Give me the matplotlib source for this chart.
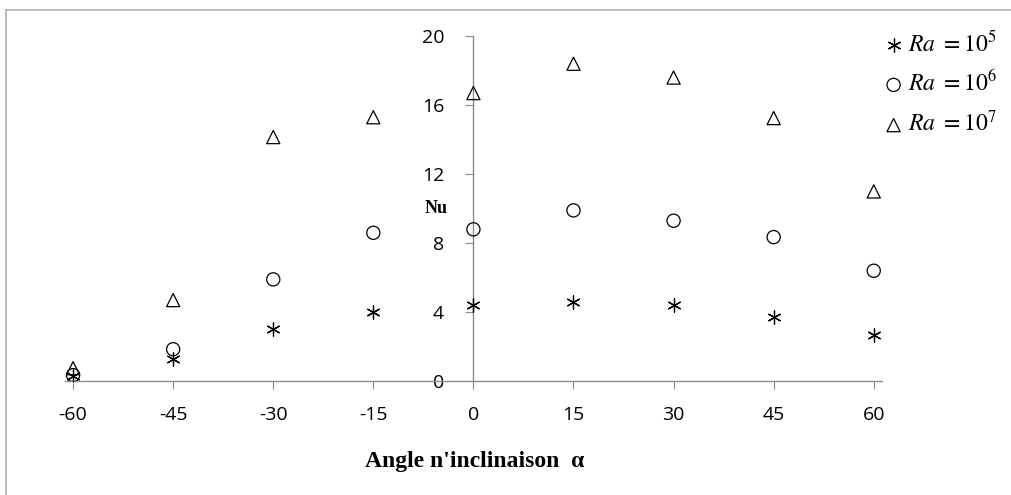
import matplotlib
matplotlib.use('Agg')
import matplotlib.pyplot as plt
from matplotlib.lines import Line2D

plt.rcParams['mathtext.fontset'] = 'stix'
plt.rcParams['axes.unicode_minus'] = False

angles = [-60, -45, -30, -15, 0, 15, 30, 45, 60]
nu_ra5 = [0.3, 1.3, 3.0, 4.0, 4.4, 4.6, 4.4, 3.7, 2.7]
nu_ra6 = [0.35, 1.85, 5.9, 8.6, 8.8, 9.9, 9.3, 8.35, 6.4]
nu_ra7 = [0.75, 4.7, 14.15, 15.3, 16.7, 18.4, 17.6, 15.25, 11.0]
labels = [r'$Ra\ =10^5$', r'$Ra\ =10^6$', r'$Ra\ =10^7$']
yticks = [0, 4, 8, 12, 16, 20]

fig = plt.figure(figsize=(10.12, 4.95), dpi=100)
ax = fig.add_axes([0.0643, 0.230, 0.807, 0.697])

ax.scatter(angles, nu_ra5, marker=(6, 2, 0), s=90, color='black', linewidths=0.9, label=labels[0], zorder=3)
ax.scatter(angles, nu_ra6, marker='o', s=90, facecolors='none', edgecolors='black', linewidths=0.9, label=labels[1], zorder=3)
ax.scatter(angles, nu_ra7, marker='^', s=90, facecolors='none', edgecolors='black', linewidths=0.9, label=labels[2], zorder=3)

ax.set_xlim(-61.2, 61.2)
ax.set_ylim(0, 20)
ax.set_xticks(angles)
ax.set_yticks(yticks)

for s in ['top', 'right']:
    ax.spines[s].set_visible(False)
ax.spines['left'].set_position(('data', 0))
ax.spines['bottom'].set_position(('data', 0))
for s in ['left', 'bottom']:
    ax.spines[s].set_color('#8c8c8c')
    ax.spines[s].set_linewidth(1.0)
ax.tick_params(axis='both', colors='#8c8c8c', length=6, labelcolor='black', labelsize=14, direction='out')
ax.tick_params(axis='x', pad=12)
ax.tick_params(axis='y', pad=15)
for t in ax.get_xticklabels() + ax.get_yticklabels():
    t.set_family('Open Sans')

ax.text(-3.8, 10.0, 'Nu', family='Liberation Serif', fontweight='bold', fontsize=13, ha='right', va='center')
fig.text(0.469, 0.067, "Angle n'inclinaison  \u03b1", family='Liberation Serif', fontweight='bold', fontsize=17, ha='center', va='center')

ax.legend(loc='upper left', bbox_to_anchor=(0.862, 0.958), bbox_transform=fig.transFigure, frameon=False,
          fontsize=17, handletextpad=0.1, labelspacing=0.62, borderaxespad=0, handlelength=1.0, markerscale=1.0)

# partial frame (left and top edges only)
fig.lines.append(Line2D([0.006, 0.006], [0.0, 0.980], transform=fig.transFigure, color='#b0b0b0', linewidth=1.2))
fig.lines.append(Line2D([0.006, 1.0], [0.980, 0.980], transform=fig.transFigure, color='#b0b0b0', linewidth=1.2))

fig.savefig('out.png', dpi=100)
